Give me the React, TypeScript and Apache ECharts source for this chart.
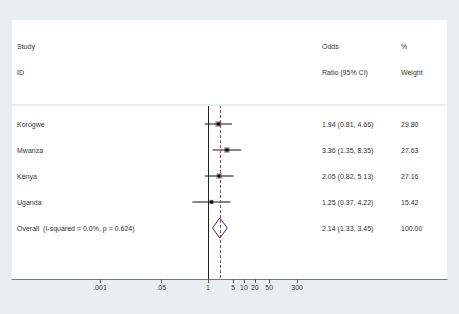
import React, { useEffect, useRef } from "react";
import * as echarts from "echarts";

const studies = ["Korogwe", "Mwanza", "Kenya", "Uganda"];
const oddsRatio = [1.94, 3.36, 2.05, 1.25];
const ciLow = [0.81, 1.35, 0.82, 0.37];
const ciHigh = [4.66, 8.35, 5.13, 4.22];
const weights = [29.8, 27.63, 27.16, 15.42];
const ciTexts = ["1.94 (0.81, 4.66)", "3.36 (1.35, 8.35)", "2.05 (0.82, 5.13)", "1.25 (0.37, 4.22)"];
const weightTexts = ["29.80", "27.63", "27.16", "15.42"];

const overallLabel = "Overall  (I-squared = 0.0%, p = 0.624)";
const overallValues = [2.14, 1.33, 3.45]; // OR, low, high
const overallCiText = "2.14 (1.33, 3.45)";
const overallWeightText = "100.00";

const headerStudy = ["Study", "ID"];
const headerOdds = ["Odds", "Ratio (95% CI)"];
const headerWeight = ["%", "Weight"];

const tickValues = [0.001, 0.05, 1, 5, 10, 20, 50, 300];
const tickLabels = [".001", ".05", "1", "5", "10", "20", "50", "300"];

const FONT = '"Liberation Sans", Arial, sans-serif';
const BG = "#e9eef1";
const lg = (v: number) => Math.log10(v);

export default function App() {
  const ref = useRef<HTMLDivElement>(null);
  useEffect(() => {
    if (!ref.current) return;
    const chart = echarts.init(ref.current, null, { renderer: "svg" });

    const overallRow = studies.length;
    // table texts: [row, column, text]
    const colX = [17, 322, 401];
    const texts: [number, number, string][] = [];
    headerStudy.forEach((t, i) => texts.push([i - 3, 0, t]));
    headerOdds.forEach((t, i) => texts.push([i - 3, 1, t]));
    headerWeight.forEach((t, i) => texts.push([i - 3, 2, t]));
    studies.forEach((s, i) => {
      texts.push([i, 0, s]);
      texts.push([i, 1, ciTexts[i]]);
      texts.push([i, 2, weightTexts[i]]);
    });
    texts.push([overallRow, 0, overallLabel]);
    texts.push([overallRow, 1, overallCiText]);
    texts.push([overallRow, 2, overallWeightText]);

    const tickLogs = tickValues.map(lg);

    const option: any = {
      animation: false,
      backgroundColor: BG,
      grid: {
        left: 12,
        right: 12,
        top: 20,
        bottom: 35,
        show: true,
        backgroundColor: "#ffffff",
        borderWidth: 0,
      },
      xAxis: {
        type: "value",
        min: -5.444,
        max: 6.639,
        splitLine: { show: false },
        axisLine: { show: true, onZero: false, lineStyle: { color: "#7a7a7a", width: 1 } },
        axisTick: {
          show: true,
          customValues: tickLogs,
          length: 4,
          lineStyle: { color: "#555" },
        },
        axisLabel: {
          show: true,
          customValues: tickLogs,
          fontSize: 7,
          fontFamily: FONT,
          color: "#333",
          margin: 5,
          formatter: (v: number) => {
            const idx = tickLogs.findIndex((t) => Math.abs(t - v) < 1e-6);
            return idx >= 0 ? tickLabels[idx] : "";
          },
        },
      },
      yAxis: {
        type: "value",
        min: -4,
        max: 5.9615,
        inverse: true,
        show: false,
        splitLine: { show: false },
      },
      graphic: [
        {
          type: "rect",
          z: 100,
          shape: { x: 12, y: 104, width: 435, height: 2 },
          style: { fill: BG },
        },
      ],
      series: [
        {
          type: "custom",
          name: "studies",
          silent: true,
          data: studies.map((s, i) => [i, ciLow[i], ciHigh[i], oddsRatio[i], weights[i]]),
          renderItem: (params: any, api: any) => {
            const row = api.value(0);
            const p1 = api.coord([lg(api.value(1)), row]);
            const p2 = api.coord([lg(api.value(2)), row]);
            const pc = api.coord([lg(api.value(3)), row]);
            const box = Math.sqrt(api.value(4)) * 1.1;
            return {
              type: "group",
              children: [
                {
                  type: "rect",
                  shape: { x: pc[0] - box / 2, y: pc[1] - box / 2, width: box, height: box },
                  style: { fill: "#a9a9a9" },
                },
                {
                  type: "line",
                  shape: { x1: p1[0], y1: p1[1], x2: p2[0], y2: p2[1] },
                  style: { stroke: "#111", lineWidth: 1 },
                },
                {
                  type: "rect",
                  shape: { x: pc[0] - 1.5, y: pc[1] - 1.5, width: 3, height: 3 },
                  style: { fill: "#000" },
                },
              ],
            };
          },
          markLine: {
            silent: true,
            symbol: "none",
            label: { show: false },
            data: [
              [
                { coord: [0, -0.73], lineStyle: { color: "#222", type: "solid", width: 1 } },
                { coord: [0, 5.9615] },
              ],
              [
                { coord: [lg(overallValues[0]), -0.73], lineStyle: { color: "#a8384a", type: [3, 2], width: 1 } },
                { coord: [lg(overallValues[0]), 5.9615] },
              ],
            ],
          },
          z: 3,
        },
        {
          type: "custom",
          name: "overall",
          silent: true,
          data: [[overallRow, overallValues[1], overallValues[2], overallValues[0]]],
          renderItem: (params: any, api: any) => {
            const row = api.value(0);
            const pl = api.coord([lg(api.value(1)), row]);
            const ph = api.coord([lg(api.value(2)), row]);
            const pt = api.coord([lg(api.value(3)), row - 0.385]);
            const pb = api.coord([lg(api.value(3)), row + 0.385]);
            return {
              type: "polygon",
              shape: { points: [pl, pt, ph, pb] },
              style: { fill: "none", stroke: "#2d2d80", lineWidth: 1 },
            };
          },
          z: 4,
        },
        {
          type: "custom",
          name: "table",
          silent: true,
          data: texts.map((t) => [t[0], t[1]]),
          renderItem: (params: any, api: any) => {
            const item = texts[params.dataIndex];
            const y = api.coord([0, item[0]])[1];
            return {
              type: "text",
              style: {
                text: item[2],
                x: colX[item[1]],
                y,
                fill: "#333",
                fontSize: 7,
                fontFamily: FONT,
                verticalAlign: "middle",
                align: "left",
              },
            };
          },
          z: 5,
        },
      ],
    };
    chart.setOption(option);
    return () => chart.dispose();
  }, []);
  return (
    <div
      ref={ref}
      style={{ position: "fixed", left: 0, top: 0, width: 459, height: 314 }}
    />
  );
}
